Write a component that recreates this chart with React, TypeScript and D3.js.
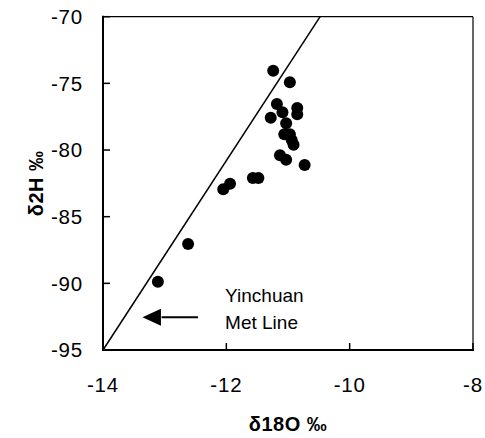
import React from "react";
import * as d3 from "d3";

const d18O = [-11.24, -10.97, -11.18, -11.09, -10.85, -10.85, -11.28, -11.03, -11.06, -10.97, -10.94, -10.91, -11.13, -11.03, -10.73, -11.57, -11.48, -11.94, -12.05, -12.62, -13.11];
const d2H = [-74.05, -74.92, -76.55, -77.17, -76.85, -77.32, -77.58, -78.0, -78.82, -78.82, -79.25, -79.6, -80.4, -80.73, -81.12, -82.1, -82.1, -82.53, -82.95, -87.05, -89.88];
const xTicks = [-14, -12, -10, -8];
const yTicks = [-95, -90, -85, -80, -75, -70];
const metSlope = 7.1;
const metIntercept = 4.4;
const labelLines = ["Yinchuan", "Met Line"];

const W = 485, H = 438;
const L = 103, R = 473, T = 16.7, B = 350;

export default function App() {
  const x = d3.scaleLinear().domain([-14, -8]).range([L, R]);
  const y = d3.scaleLinear().domain([-95, -70]).range([B, T]);
  const xStart = (-95 - metIntercept) / metSlope;
  const xEnd = (-70 - metIntercept) / metSlope;
  const met = d3.line<number>().x(v => x(v)).y(v => y(metSlope * v + metIntercept));
  const font = "Liberation Sans, Arial, sans-serif";
  return (
    <svg width={W} height={H} style={{ position: "absolute", left: 0, top: 0, background: "#fff" }}>
      <rect x={0} y={0} width={W} height={H} fill="#fff" />
      {/* frame */}
      <line x1={L} y1={T} x2={R} y2={T} stroke="#000" strokeWidth={1.2} />
      <line x1={R} y1={T} x2={R} y2={B} stroke="#000" strokeWidth={1.2} />
      <line x1={L} y1={T - 1} x2={L} y2={B + 1} stroke="#000" strokeWidth={2} />
      <line x1={L - 1} y1={B} x2={R + 1} y2={B} stroke="#000" strokeWidth={2} />
      {xTicks.map(t => (
        <g key={"x" + t}>
          <line x1={x(t)} x2={x(t)} y1={B} y2={B - 7} stroke="#000" strokeWidth={1.5} />
          <text x={x(t)} y={392} textAnchor="middle" fontFamily={font} fontSize={20.5} letterSpacing={0.8}>{t}</text>
        </g>
      ))}
      {yTicks.map(t => (
        <g key={"y" + t}>
          <line x1={L} x2={L + 7} y1={y(t)} y2={y(t)} stroke="#000" strokeWidth={1.5} />
          <text x={83} y={y(t) + 7.3} textAnchor="end" fontFamily={font} fontSize={20.5} letterSpacing={0.8}>{t}</text>
        </g>
      ))}
      <path d={met([xStart, xEnd]) || ""} fill="none" stroke="#000" strokeWidth={1.5} />
      {d18O.map((v, i) => (
        <circle key={i} cx={x(v)} cy={y(d2H[i])} r={6} fill="#000" />
      ))}
      {/* annotation */}
      <line x1={x(-12.46)} y1={y(-92.55)} x2={x(-13.05)} y2={y(-92.55)} stroke="#000" strokeWidth={2} />
      <path d={`M${x(-13.36)},${y(-92.55)} L${x(-13.06)},${y(-92.55) - 8.5} L${x(-13.06)},${y(-92.55) + 8.5} Z`} fill="#000" />
      {labelLines.map((s, i) => (
        <text key={s} x={x(-12.02)} y={y(-91.38) + i * 27} fontFamily={font} fontSize={19}>{s}</text>
      ))}
      <text x={(L + R) / 2} y={431} textAnchor="middle" fontFamily={font} fontSize={20} fontWeight="bold" letterSpacing={0.5}>δ18O ‰</text>
      <text transform={`translate(43,${(T + B) / 2}) rotate(-90)`} textAnchor="middle" fontFamily={font} fontSize={20} fontWeight="bold" letterSpacing={0.5}>δ2H ‰</text>
    </svg>
  );
}
